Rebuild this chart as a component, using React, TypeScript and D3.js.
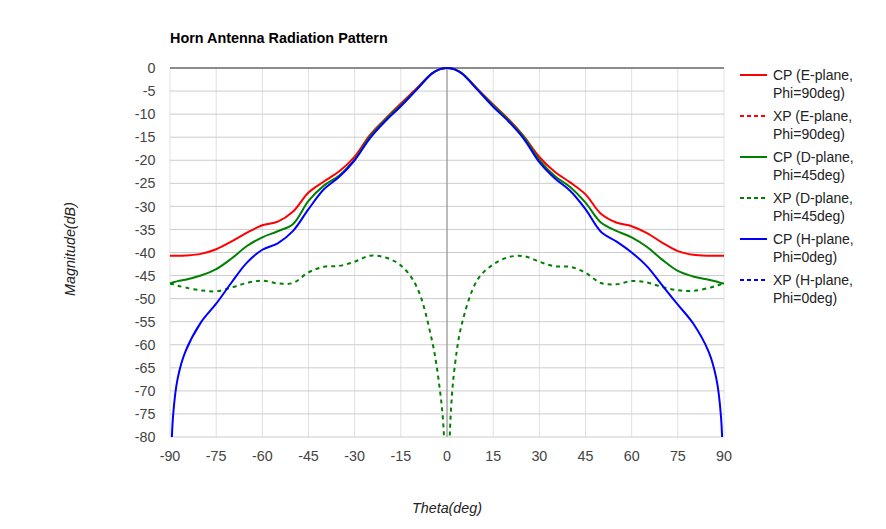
import * as d3 from "d3";

// theta samples (deg), denser near the ends and the boresight null
const theta = [
  -90, -89, -87.5, -85, -80, -75, -70, -65, -60, -55, -50, -45, -40, -35, -30, -25, -20, -15, -10, -5,
  -2.5, -1, 0, 1, 2.5,
  5, 10, 15, 20, 25, 30, 35, 40, 45, 50, 55, 60, 65, 70, 75, 80, 85, 87.5, 89, 90,
];

const cpE = [
  -40.7, -40.7, -40.7, -40.65, -40.3, -39.3, -37.6, -35.7, -34.1, -33.3, -31.1, -27.0, -24.6, -22.4, -19.2, -14.5, -11.0, -7.7, -4.5, -1.2,
  -0.3, -0.05, 0, -0.05, -0.3,
  -1.2, -4.6, -7.9, -11.1, -14.8, -19.3, -22.5, -24.8, -27.4, -31.6, -33.5, -34.3, -35.8, -37.9, -39.7, -40.5, -40.7, -40.7, -40.7, -40.7,
];
const cpD = [
  -46.7, -46.5, -46.2, -45.9, -45.0, -43.6, -41.3, -38.6, -36.7, -35.4, -33.8, -28.8, -25.5, -23.3, -19.8, -14.8, -11.2, -8.0, -4.7, -1.2,
  -0.3, -0.05, 0, -0.05, -0.3,
  -1.2, -4.7, -8.1, -11.3, -15.0, -19.9, -23.4, -25.8, -29.2, -33.5, -35.3, -36.7, -38.8, -41.6, -44.0, -45.2, -45.9, -46.3, -46.6, -46.7,
];
const cpH = [
  -95, -75.4, -67.3, -61.5, -55.2, -51.1, -46.5, -42.2, -39.4, -38.0, -35.3, -30.6, -26.3, -23.6, -20.0, -15.2, -11.5, -8.3, -4.8, -1.3,
  -0.3, -0.05, 0, -0.05, -0.3,
  -1.3, -4.8, -8.4, -11.6, -15.4, -20.4, -23.9, -26.6, -30.6, -35.5, -37.6, -40.0, -43.0, -47.2, -51.3, -55.4, -61.5, -67.3, -75.4, -95,
];
const xpD = [
  -46.8, -46.9, -47.2, -47.6, -48.2, -48.4, -47.6, -46.6, -46.1, -46.7, -46.6, -44.3, -43.1, -42.9, -42.0, -40.7, -41.1, -42.8, -47.2, -58.7,
  -68.8, -79.5, -120, -78, -64.8,
  -55.0, -45.8, -42.6, -41.0, -40.8, -42.0, -43.0, -43.1, -44.4, -46.6, -46.9, -46.2, -46.5, -47.5, -48.2, -48.3, -47.7, -47.2, -46.9, -46.6,
];

const xTicks = d3.range(-90, 91, 15);
const yTicks = d3.range(0, -81, -5);

const legendItems = [
  { line1: "CP (E-plane,", line2: "Phi=90deg)", color: "#ff0000", dashed: false },
  { line1: "XP (E-plane,", line2: "Phi=90deg)", color: "#ff0000", dashed: true },
  { line1: "CP (D-plane,", line2: "Phi=45deg)", color: "#008000", dashed: false },
  { line1: "XP (D-plane,", line2: "Phi=45deg)", color: "#008000", dashed: true },
  { line1: "CP (H-plane,", line2: "Phi=0deg)", color: "#0000ff", dashed: false },
  { line1: "XP (H-plane,", line2: "Phi=0deg)", color: "#0000ff", dashed: true },
];

const series = [
  { values: cpE, color: "#ff0000", dashed: false },
  { values: cpD, color: "#008000", dashed: false },
  { values: xpD, color: "#008000", dashed: true },
  { values: cpH, color: "#0000ff", dashed: false },
];

export default function App() {
  const width = 886;
  const height = 529;
  const left = 170;
  const right = 724;
  const top = 68;
  const bottom = 437;
  const font = "'Liberation Sans', Arial, sans-serif";

  const x = d3.scaleLinear([-90, 90], [left, right]);
  const y = d3.scaleLinear([-80, 0], [bottom, top]);

  const line = d3
    .line<number>()
    .x((_, i) => x(theta[i]))
    .y((d) => y(d))
    .curve(d3.curveCatmullRom.alpha(0.5));

  return (
    <svg
      width={width}
      height={height}
      style={{ position: "absolute", left: 0, top: 0, background: "#fff" }}
      fontFamily={font}
    >
      <defs>
        <clipPath id="plot">
          <rect x={left - 2} y={top - 6} width={right - left + 4} height={bottom - top + 6} />
        </clipPath>
      </defs>
      <text x={170} y={43} fontSize={14.4} fontWeight="bold" fill="#000">
        Horn Antenna Radiation Pattern
      </text>

      {/* grid */}
      {xTicks.map((t) => (
        <line key={"vx" + t} x1={x(t)} x2={x(t)} y1={top} y2={bottom} stroke="#e0e0e0" strokeWidth={1} />
      ))}
      {yTicks.map((t) => (
        <line key={"hy" + t} x1={left} x2={right} y1={y(t)} y2={y(t)} stroke="#cccccc" strokeWidth={1} />
      ))}
      <line x1={x(0)} x2={x(0)} y1={top} y2={bottom} stroke="#888" strokeWidth={1} />
      <line x1={left} x2={right} y1={y(0)} y2={y(0)} stroke="#333" strokeWidth={1} />

      {/* tick labels */}
      {yTicks.map((t) => (
        <text key={"yl" + t} x={155.5} y={y(t)} dy="0.36em" textAnchor="end" fontSize={14.3} fill="#444">
          {t}
        </text>
      ))}
      {xTicks.map((t) => (
        <text key={"xl" + t} x={x(t)} y={460.5} textAnchor="middle" fontSize={14.3} fill="#444">
          {t}
        </text>
      ))}

      {/* axis titles */}
      <text
        transform={`translate(75,249) rotate(-90)`}
        textAnchor="middle"
        fontSize={14.3}
        fontStyle="italic"
        fill="#222"
      >
        Magnitude(dB)
      </text>
      <text x={447} y={513} textAnchor="middle" fontSize={14.3} fontStyle="italic" fill="#222">
        Theta(deg)
      </text>

      {/* series */}
      <g clipPath="url(#plot)" fill="none" strokeWidth={2}>
        {series.map((s, i) => (
          <path
            key={i}
            d={line(s.values) ?? ""}
            stroke={s.color}
            strokeDasharray={s.dashed ? "4,4" : undefined}
          />
        ))}
      </g>

      {/* legend */}
      {legendItems.map((item, i) => {
        const ly = 75 + i * 41;
        return (
          <g key={"lg" + i}>
            <line
              x1={740}
              x2={767}
              y1={ly}
              y2={ly}
              stroke={item.color}
              strokeWidth={2}
              strokeDasharray={item.dashed ? "4,3" : undefined}
            />
            <text x={773} y={ly} dy="0.36em" fontSize={14} fill="#222">
              {item.line1}
            </text>
            <text x={773} y={ly + 18} dy="0.36em" fontSize={14} fill="#222">
              {item.line2}
            </text>
          </g>
        );
      })}
    </svg>
  );
}
